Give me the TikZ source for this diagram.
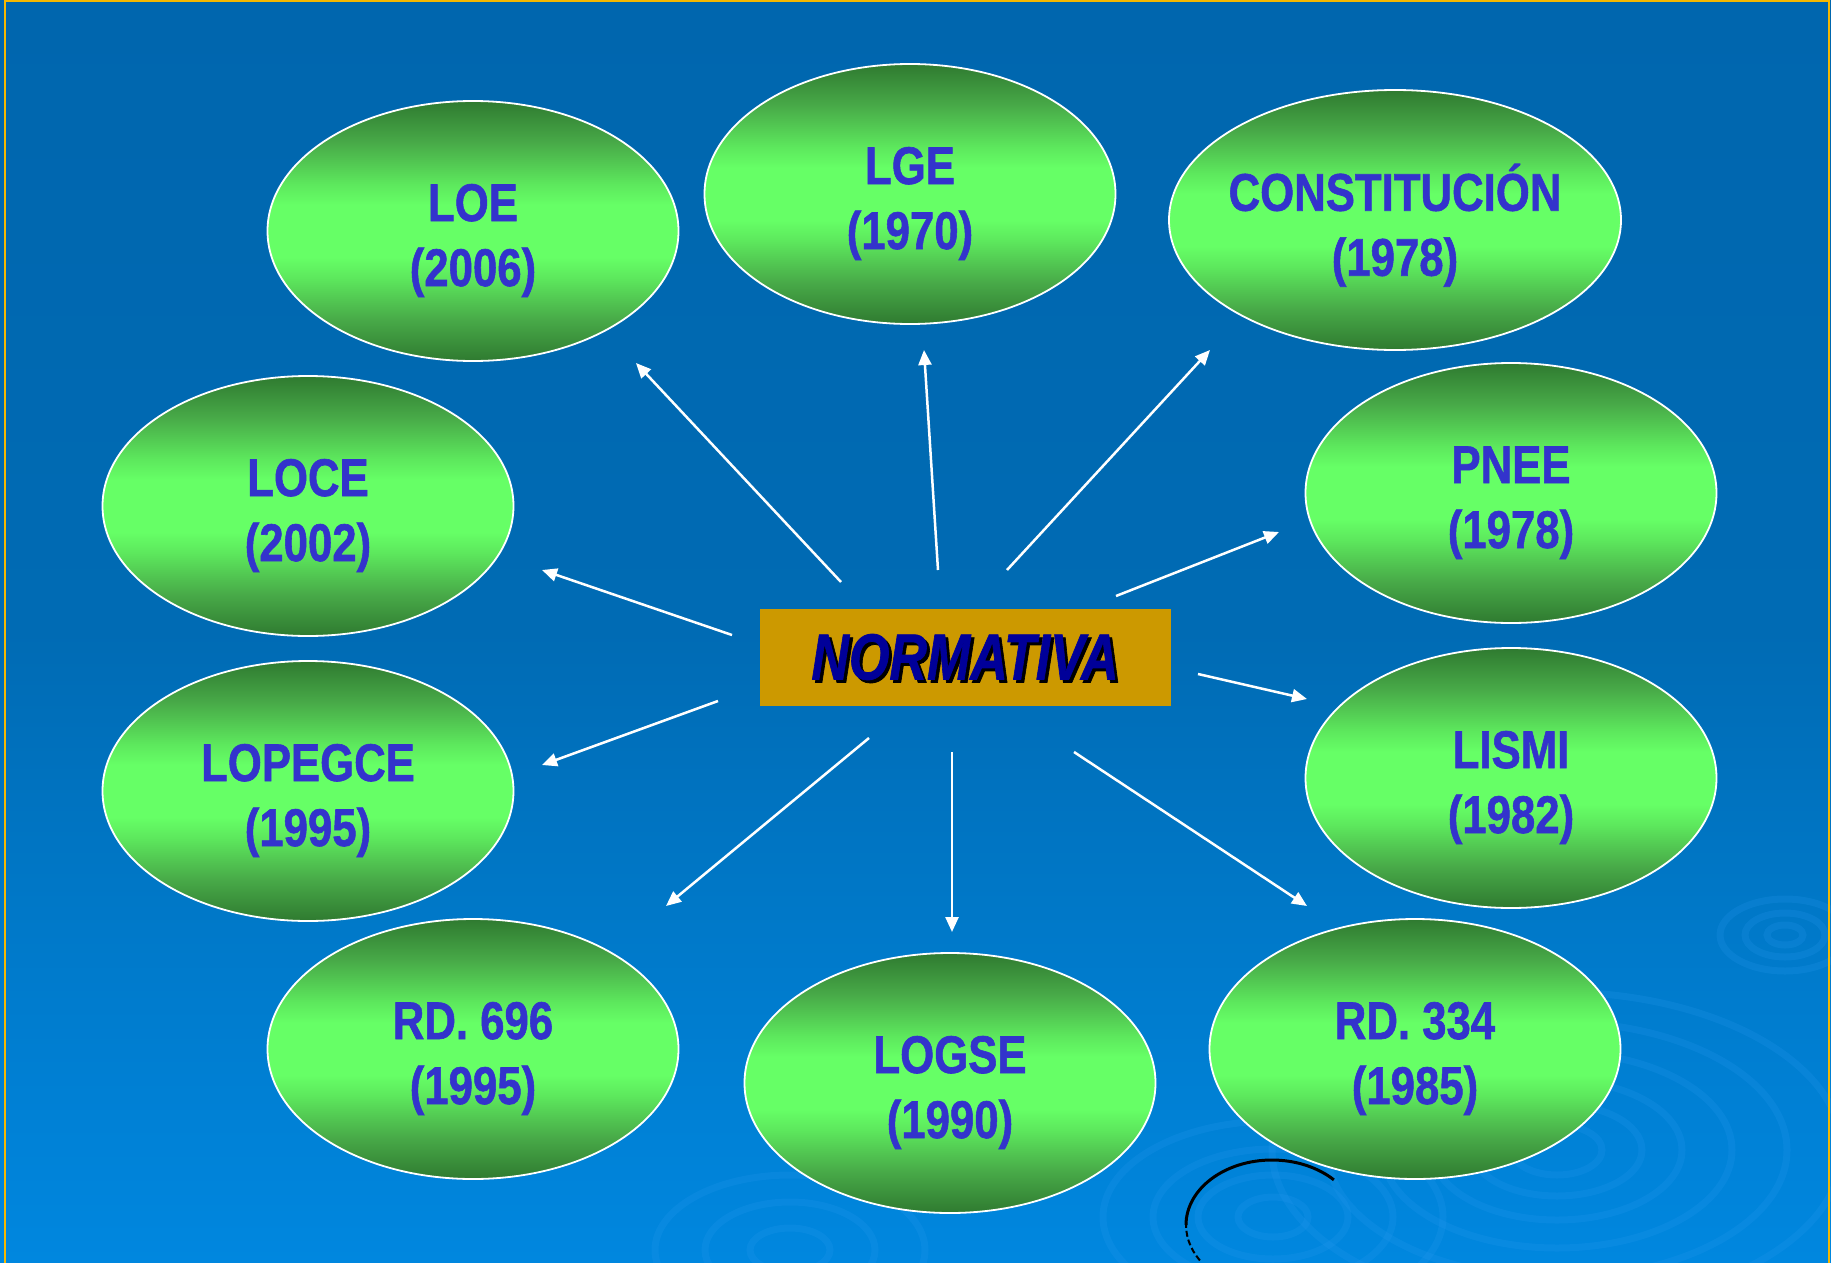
\documentclass[tikz,border=0pt]{standalone}
\usepackage{fontspec}
\setmainfont{Liberation Sans}[BoldFeatures={FakeBold=1.2},BoldItalicFeatures={FakeBold=1.2}]
\usetikzlibrary{arrows.meta,shapes.geometric}
\definecolor{bga}{HTML}{0087DF}
\definecolor{bgb}{HTML}{0077C6}
\definecolor{bgc}{HTML}{006BB4}
\definecolor{bgd}{HTML}{0066AE}
\definecolor{framecol}{HTML}{F5B800}
\definecolor{dg}{HTML}{2F7A30}
\definecolor{mg}{HTML}{48AA48}
\definecolor{ng}{HTML}{5DE85D}
\definecolor{lg}{HTML}{66FF66}
\definecolor{lblcol}{HTML}{3333CC}
\definecolor{nbox}{HTML}{CC9900}
\definecolor{ntext}{HTML}{000099}
\definecolor{ripple}{HTML}{2A9AF0}
\pgfdeclareverticalshading{greenell}{100bp}{color(0bp)=(dg); color(25bp)=(dg); color(33bp)=(mg); color(41bp)=(ng); color(45bp)=(lg); color(55bp)=(lg); color(59bp)=(ng); color(67bp)=(mg); color(75bp)=(dg); color(100bp)=(dg)}
\pgfdeclareverticalshading{bgshade}{100bp}{color(0bp)=(bga); color(25bp)=(bga); color(40bp)=(bgb); color(50bp)=(bgc); color(75bp)=(bgd); color(100bp)=(bgd)}
\newcommand\elab[2]{\scalebox{0.825}[1]{\begin{tabular}{@{}c@{}}#1\\#2\end{tabular}}}
\begin{document}
\begin{tikzpicture}[x=1pt,y=-1pt,
  ell/.style={ellipse, draw=white, line width=1.8pt, shade, shading=greenell,
    minimum width=411pt, minimum height=260pt, inner sep=0pt},
  elltext/.style={text=lblcol, font=\fontsize{53}{65}\selectfont\bfseries,
    inner sep=0pt, yshift=-9.5pt},
  normfont/.style={font=\fontsize{65}{78}\selectfont\bfseries\itshape, inner sep=0pt},
  arr/.style={white, line width=2.5pt, -{Triangle[length=15pt,width=13pt]}},
  ring/.style={draw=ripple, opacity=0.2, line width=7pt}]
\useasboundingbox (0,0) rectangle (1831,1263);
\shade[shading=bgshade] (0,0) rectangle (1831,1263);
% background ripples
\foreach \rx/\ry in {45/25,85/46,125/70,175/98,230/128,285/158}
  \draw[ring] (1557,1150) ellipse[x radius=\rx, y radius=\ry];
\foreach \rx/\ry in {18/10,40/22,65/36}
  \draw[ring] (1785,935) ellipse[x radius=\rx, y radius=\ry];
\foreach \rx/\ry in {35/20,75/42,120/68,170/96}
  \draw[ring] (1273,1217) ellipse[x radius=\rx, y radius=\ry];
\foreach \rx/\ry in {40/22,85/48,135/75}
  \draw[ring] (790,1250) ellipse[x radius=\rx, y radius=\ry];
\draw[black, line width=2pt, dash pattern=on 6pt off 3pt] (1199.9,1260.4) arc[start angle=147, end angle=185, x radius=86, y radius=65];
\draw[black, line width=3pt] (1186,1225) arc[start angle=180, end angle=316, x radius=86, y radius=65];
% frame
\draw[framecol, line width=2.5pt] (5,1263) -- (5,1.2) -- (1829,1.2) -- (1829,1263);
% ellipses
\node[ell] (loe) at (473,231) {};
\node[ell] (lge) at (910,194) {};
\node[ell, minimum width=452pt] (con) at (1395,220) {};
\node[ell] (pnee) at (1511,493) {};
\node[ell] (lismi) at (1511,778) {};
\node[ell] (rd334) at (1415,1049) {};
\node[ell] (logse) at (950,1083) {};
\node[ell] (rd696) at (473,1049) {};
\node[ell] (lopegce) at (308,791) {};
\node[ell] (loce) at (308,506) {};
\node[elltext] (loe-t) at (loe) {\elab{LOE}{(2006)}};
\node[elltext] (lge-t) at (lge) {\elab{LGE}{(1970)}};
\node[elltext] (con-t) at (con) {\elab{CONSTITUCIÓN}{(1978)}};
\node[elltext] (pnee-t) at (pnee) {\elab{PNEE}{(1978)}};
\node[elltext] (lismi-t) at (lismi) {\elab{LISMI}{(1982)}};
\node[elltext] (rd334-t) at (rd334) {\elab{RD. 334}{(1985)}};
\node[elltext] (logse-t) at (logse) {\elab{LOGSE}{(1990)}};
\node[elltext] (rd696-t) at (rd696) {\elab{RD. 696}{(1995)}};
\node[elltext] (lopegce-t) at (lopegce) {\elab{LOPEGCE}{(1995)}};
\node[elltext] (loce-t) at (loce) {\elab{LOCE}{(2002)}};
% central box
\node[fill=nbox, minimum width=411pt, minimum height=97pt, inner sep=0pt] (norm) at (965,657) {};
\node[normfont, text=black, xshift=3pt, yshift=-3pt] (norm-s) at (norm) {\scalebox{0.8}[1]{NORMATIVA}};
\node[normfont, text=ntext] (norm-t) at (norm) {\scalebox{0.8}[1]{NORMATIVA}};
% arrow end points
\coordinate (s1) at (841,582);  \coordinate (e1) at (636,363);
\coordinate (s2) at (938,570);  \coordinate (e2) at (924,350);
\coordinate (s3) at (1007,570); \coordinate (e3) at (1210,350);
\coordinate (s4) at (1116,596); \coordinate (e4) at (1279,532);
\coordinate (s5) at (1198,674); \coordinate (e5) at (1307,699);
\coordinate (s6) at (1074,752); \coordinate (e6) at (1307,906);
\coordinate (s7) at (952,752);  \coordinate (e7) at (952,932);
\coordinate (s8) at (869,738);  \coordinate (e8) at (666,906);
\coordinate (s9) at (718,701);  \coordinate (e9) at (542,765);
\coordinate (s10) at (732,635); \coordinate (e10) at (542,570);
\foreach \i in {1,...,10}
  \draw[arr] (s\i) -- (e\i);
\end{tikzpicture}
\end{document}
